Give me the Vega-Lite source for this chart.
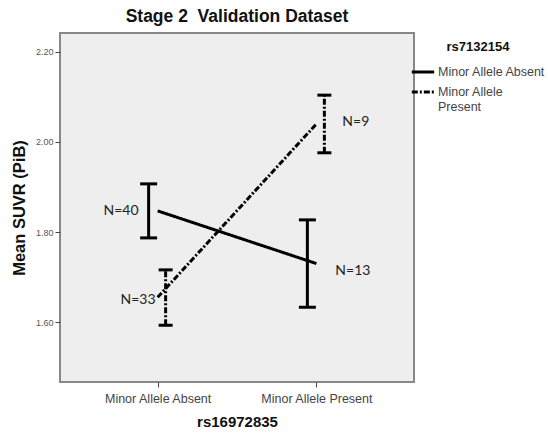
{
  "$schema": "https://vega.github.io/schema/vega-lite/v6.json",
  "width": 354,
  "height": 349,
  "padding": {"left": 11, "top": 7, "right": 0, "bottom": 5},
  "background": "#ffffff",
  "title": {
    "text": "Stage 2\u00a0 Validation Dataset",
    "font": "Liberation Sans",
    "fontSize": 17.5,
    "fontWeight": "bold",
    "color": "#111111",
    "anchor": "middle",
    "offset": 8
  },
  "data": {
    "values": [
      {"rs16972835": "Minor Allele Absent", "rs7132154": "Minor Allele Absent", "mean": 1.847, "lo": 1.787, "hi": 1.907, "n": "N=40"},
      {"rs16972835": "Minor Allele Present", "rs7132154": "Minor Allele Absent", "mean": 1.730, "lo": 1.633, "hi": 1.827, "n": "N=13"},
      {"rs16972835": "Minor Allele Absent", "rs7132154": "Minor Allele Present", "mean": 1.655, "lo": 1.593, "hi": 1.716, "n": "N=33"},
      {"rs16972835": "Minor Allele Present", "rs7132154": "Minor Allele Present", "mean": 2.040, "lo": 1.976, "hi": 2.104, "n": "N=9"}
    ]
  },
  "encoding": {
    "x": {
      "field": "rs16972835",
      "type": "nominal",
      "sort": ["Minor Allele Absent", "Minor Allele Present"],
      "scale": {"type": "point", "padding": 0.615},
      "axis": {
        "labelAngle": 0,
        "labelFont": "Liberation Sans",
        "labelFontSize": 12.5,
        "labelColor": "#444444",
        "labelPadding": 5,
        "tickColor": "#444444",
        "tickSize": 5,
        "domain": false,
        "title": "rs16972835",
        "titleFont": "Liberation Sans",
        "titleFontSize": 15,
        "titleFontWeight": "bold",
        "titleColor": "#111111",
        "titlePadding": 10
      }
    }
  },
  "layer": [
    {
      "mark": {"type": "line", "strokeWidth": 3, "color": "#000000"},
      "encoding": {
        "y": {
          "field": "mean",
          "type": "quantitative",
          "scale": {"domain": [1.467, 2.242], "nice": false, "zero": false},
          "axis": {
            "values": [1.6, 1.8, 2.0, 2.2],
            "format": ".2f",
            "grid": false,
            "domain": false,
            "labelFont": "Liberation Sans",
            "labelFontSize": 9,
            "labelColor": "#555555",
            "tickColor": "#444444",
            "tickSize": 5,
            "labelPadding": 2,
            "title": "Mean SUVR (PiB)",
            "titleFont": "Liberation Sans",
            "titleFontSize": 16.5,
            "titleFontWeight": "bold",
            "titleColor": "#111111",
            "titlePadding": 8
          }
        },
        "strokeDash": {
          "field": "rs7132154",
          "type": "nominal",
          "scale": {
            "domain": ["Minor Allele Absent", "Minor Allele Present"],
            "range": [[1, 0], [6, 2, 2, 2]]
          },
          "legend": {
            "title": "rs7132154",
            "titleFont": "Liberation Sans",
            "titleFontSize": 13,
            "titleFontWeight": "bold",
            "titleColor": "#111111",
            "titleAnchor": "middle",
            "titlePadding": 5,
            "labelFont": "Liberation Sans",
            "labelFontSize": 12.5,
            "labelColor": "#444444",
            "labelLimit": 200,
            "labelOffset": 2,
            "labelExpr": "datum.label == 'Minor Allele Present' ? ['Minor Allele', 'Present'] : datum.label",
            "symbolType": "M-1,0H1",
            "symbolStrokeWidth": 3,
            "symbolStrokeColor": "#000000",
            "symbolSize": 500,
            "rowPadding": -6,
            "offset": -12,
            "padding": 8
          }
        }
      }
    },
    {
      "transform": [{"filter": "datum.rs7132154 == 'Minor Allele Absent'"}],
      "mark": {"type": "rule", "strokeWidth": 3, "color": "#000000", "xOffset": -9},
      "encoding": {"y": {"field": "lo", "type": "quantitative"}, "y2": {"field": "hi"}}
    },
    {
      "transform": [{"filter": "datum.rs7132154 == 'Minor Allele Absent'"}],
      "mark": {"type": "tick", "thickness": 3, "size": 17, "color": "#000000", "xOffset": -9, "opacity": 1},
      "encoding": {"y": {"field": "lo", "type": "quantitative"}}
    },
    {
      "transform": [{"filter": "datum.rs7132154 == 'Minor Allele Absent'"}],
      "mark": {"type": "tick", "thickness": 3, "size": 17, "color": "#000000", "xOffset": -9, "opacity": 1},
      "encoding": {"y": {"field": "hi", "type": "quantitative"}}
    },
    {
      "transform": [{"filter": "datum.rs7132154 == 'Minor Allele Present'"}],
      "mark": {"type": "rule", "strokeWidth": 3, "color": "#000000", "xOffset": 8, "strokeDash": [6, 2, 2, 2]},
      "encoding": {"y": {"field": "lo", "type": "quantitative"}, "y2": {"field": "hi"}}
    },
    {
      "transform": [{"filter": "datum.rs7132154 == 'Minor Allele Present'"}],
      "mark": {"type": "tick", "thickness": 3, "size": 14, "color": "#000000", "xOffset": 8, "opacity": 1},
      "encoding": {"y": {"field": "lo", "type": "quantitative"}}
    },
    {
      "transform": [{"filter": "datum.rs7132154 == 'Minor Allele Present'"}],
      "mark": {"type": "tick", "thickness": 3, "size": 14, "color": "#000000", "xOffset": 8, "opacity": 1},
      "encoding": {"y": {"field": "hi", "type": "quantitative"}}
    },
    {
      "transform": [{"filter": "datum.n == 'N=40'"}],
      "mark": {"type": "text", "font": "Lato", "fontSize": 14, "color": "#222222", "align": "right", "baseline": "middle", "dx": -19, "dy": 0},
      "encoding": {"y": {"field": "mean", "type": "quantitative"}, "text": {"field": "n"}}
    },
    {
      "transform": [{"filter": "datum.n == 'N=33'"}],
      "mark": {"type": "text", "font": "Lato", "fontSize": 14, "color": "#222222", "align": "right", "baseline": "middle", "dx": -2, "dy": 3},
      "encoding": {"y": {"field": "mean", "type": "quantitative"}, "text": {"field": "n"}}
    },
    {
      "transform": [{"filter": "datum.n == 'N=9'"}],
      "mark": {"type": "text", "font": "Lato", "fontSize": 14, "color": "#222222", "align": "left", "baseline": "middle", "dx": 26, "dy": -2},
      "encoding": {"y": {"field": "mean", "type": "quantitative"}, "text": {"field": "n"}}
    },
    {
      "transform": [{"filter": "datum.n == 'N=13'"}],
      "mark": {"type": "text", "font": "Lato", "fontSize": 14, "color": "#222222", "align": "left", "baseline": "middle", "dx": 19, "dy": 7},
      "encoding": {"y": {"field": "mean", "type": "quantitative"}, "text": {"field": "n"}}
    }
  ],
  "config": {
    "view": {"fill": "#eeeeee", "stroke": "#888888", "strokeWidth": 2}
  }
}
